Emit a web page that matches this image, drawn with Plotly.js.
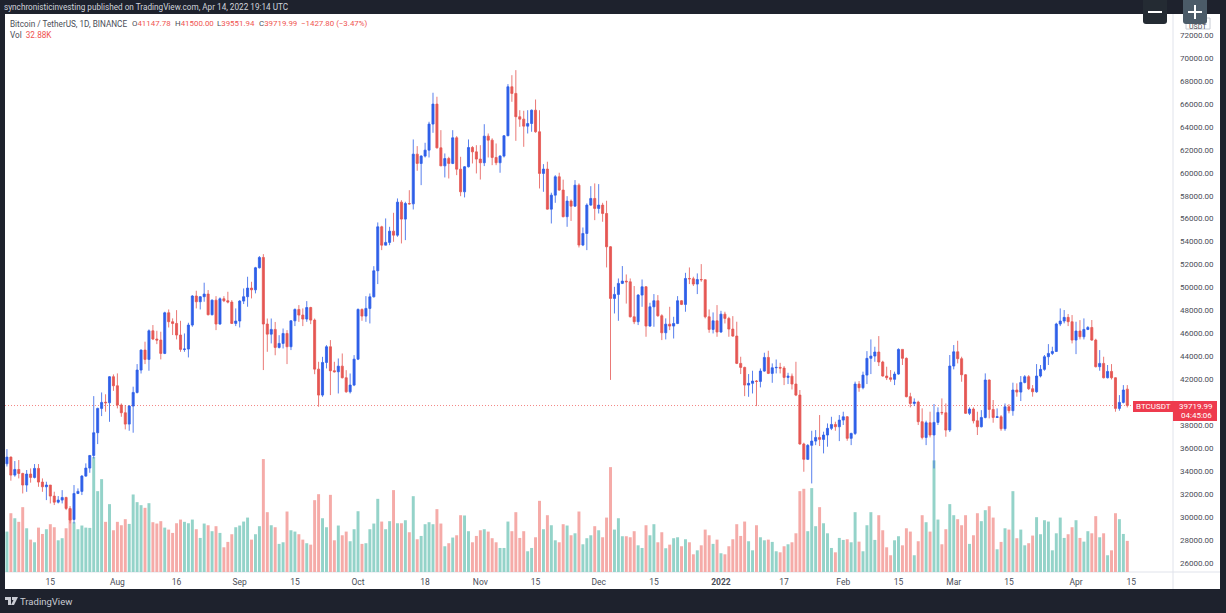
<!DOCTYPE html>
<html>
<head>
<meta charset="utf-8">
<script src="https://cdn.plot.ly/plotly-3.0.1.min.js"></script>
<style>html,body{margin:0;padding:0;background:#1e222d;overflow:hidden}</style>
</head>
<body>
<div id="chart" style="width:1226px;height:613px"></div>
<script>
const firstDate = '2021-07-04';
const opens = [34645,35225,33660,34150,33800,32790,33750,33456,34240,33050,32640,32790,31830,31300,31480,31710,30755,29790,32060,32240,33570,34270,35370,37350,39470,40010,39960,42230,41440,39760,39090,38100,39670,40860,42810,44550,43740,46230,45510,45420,44260,47800,47020,46870,45860,44610,44640,46730,49260,48760,49200,49430,47630,48900,46820,49020,48850,48730,46870,47080,48820,49200,49950,49800,51720,52620,46820,45940,46350,44780,45130,46000,44840,47100,48090,47600,47250,48260,47160,42890,40630,43470,44840,42750,42660,43150,42140,40915,41500,43760,48090,47510,48180,49190,51460,55290,53690,53930,54910,54560,57440,55960,57320,57290,61620,60810,61450,61970,64240,65980,62170,60600,61240,60810,63045,60310,58340,60520,62200,61820,61190,60870,63190,62840,61330,60870,61450,63220,67490,66910,64880,64670,64060,64290,65450,63570,59940,60320,56830,58050,59650,58490,56170,57530,57090,58920,53700,54710,57180,57760,56890,57180,56450,53550,49050,49400,50360,50560,50500,47450,47020,49340,50065,46640,48320,48850,47540,46060,46810,46640,46870,48850,48530,50790,50760,50300,50700,50680,47450,46350,47100,46120,47680,47310,46380,45770,43390,43040,41500,41650,41850,41820,42720,43910,42520,43010,43040,42980,42170,42280,41590,40630,36370,35030,36250,36620,36940,36770,37150,37730,38070,37870,38450,38740,36860,37290,41590,41270,42370,43830,44030,44380,43510,42290,42140,42000,42460,44610,43830,40490,39900,40020,38310,36940,38220,37150,38250,39120,39090,37580,43160,44400,43800,42400,39040,39410,38390,37870,38680,41940,39380,38680,38740,37700,39610,39270,41070,40890,41730,42230,41180,40920,42290,42870,43970,44260,44430,46820,47080,47400,47020,45420,46210,45710,46350,46520,45420,43100,43390,42140,42690,42140,39470,39990,41147.78];
const highs = [35920,35280,34880,34970,33860,34100,34240,34620,34620,33370,33080,32790,32210,31830,32350,31770,30960,32790,32500,33660,34680,35400,40540,39530,40860,40700,42290,42430,42520,39900,39760,39760,41360,43330,44610,45280,46350,46730,46230,46150,47890,48090,47310,48030,47100,46000,46930,49340,49720,49250,50420,49780,48960,49250,49140,49250,49630,48900,48180,48900,49920,50940,50500,51800,52740,52910,47300,47300,47000,45850,46430,46290,47160,48180,48470,48180,48815,48320,47300,43530,43960,44980,45420,43530,43820,44255,42800,42510,44110,48180,48180,49250,49480,51860,55670,55380,56020,55290,56510,57760,57610,57470,58480,62900,62320,61530,62610,64440,66970,66620,63710,61680,61390,63710,63190,61390,60580,62900,62320,62400,62400,64230,63420,63000,62550,61530,63280,67720,68500,68940,65450,65400,65450,65510,66380,65450,60750,60960,58260,59790,60000,59400,57960,57670,59360,59070,55230,57330,58830,59070,59010,57380,57560,53610,50060,50790,51870,51140,50790,50130,49430,50700,50120,48670,49430,49340,47670,47310,48320,47450,49250,48900,51280,51750,50940,51230,52040,50700,48090,47830,48470,47970,47890,47450,47510,47020,43970,43100,42460,42750,41940,42950,44320,44490,43390,43730,43440,43150,42570,42510,43530,41070,36480,36360,37520,37580,38890,37440,38160,38740,38310,38890,39180,38800,37350,41800,41850,42670,44460,45480,44840,45770,43620,43100,42810,42670,44700,44610,43910,40830,40340,40140,39470,38400,39180,39850,39560,40340,39900,44120,44990,45360,43970,42460,39560,39560,39180,39320,42520,42000,40200,39470,38890,39900,39840,41710,41650,42290,42370,42370,41500,43330,43250,44120,45070,44840,46930,48180,48040,47690,47600,47020,47160,47310,46640,47170,45540,44550,43970,43250,43330,42170,40630,41500,41500];
const lows = [34405,33170,33520,33370,32060,32200,33000,33370,32640,32200,31480,31190,31050,31190,31190,30610,29450,29450,32000,31920,33510,33860,35110,36360,38800,39180,38300,41000,39470,38740,37640,37520,37350,40770,42510,43330,42750,45420,45070,43740,44200,46520,45860,45480,44400,44400,43910,46580,48180,48090,48760,47570,47570,46290,46750,48730,48620,46820,46640,46520,48560,48325,49050,49490,51660,42810,44400,45130,44100,44690,44690,43330,44550,46640,47010,46640,47010,46810,42450,39610,40480,42950,40630,42600,40770,42080,40830,40770,41410,43680,47100,47010,46870,49130,50300,53260,53690,53690,53985,54420,53840,54130,57230,56800,60170,58920,61330,61330,63480,62110,60580,59590,59500,60750,59790,57960,57850,60460,60810,59940,59410,60580,61330,60660,60660,60000,61330,63190,66180,62780,64000,62260,63420,63570,63480,58630,58340,56800,55580,57380,58430,56110,55290,55800,57030,53490,53610,53260,57120,55870,56450,55730,51750,41950,47740,47100,50300,48600,47390,46810,46730,48320,45710,46580,46580,47450,45420,45480,46290,45560,46810,48470,47890,50300,50130,49430,50500,47310,46060,46000,45710,46060,46870,45710,45710,43330,42460,40540,40480,40770,39670,41300,42660,42460,41700,42520,42520,41500,41590,41120,40540,36300,33950,34970,32930,36270,36190,35550,36130,37580,37520,36620,38020,36650,36270,37150,40920,41130,41590,42460,43530,43160,42230,41940,41790,41500,42400,43250,40430,39560,39670,38020,36770,36270,36940,34240,38020,38890,37000,37410,42870,43390,41790,38980,38890,38160,37150,37810,38600,38600,38220,38650,37520,37520,39040,38830,40490,40110,41650,41070,40490,40830,42170,42750,43250,44120,44400,46640,46880,46640,45130,44200,45480,45480,46290,45360,43040,42750,42080,42080,41990,39180,39270,39900,39551.94];
const closes = [35225,33660,34150,33800,32790,33750,33456,34240,33050,32640,32790,31830,31300,31480,31710,30755,29740,32060,32240,33570,34270,35370,37350,39470,39990,39960,42230,41440,39760,39090,38100,39670,40860,42810,44550,43740,46230,45510,45420,44260,47800,47020,46870,45860,44610,44640,46730,49260,48760,49200,49430,47630,48900,46820,49020,48850,48730,46870,47080,48820,49200,49950,49800,51720,52620,46820,45940,46350,44780,45130,46000,44840,47100,48090,47600,47250,48260,47160,42890,40630,43470,44840,42750,42660,43150,42140,40915,41500,43760,48090,47510,48180,49190,51460,55290,53690,53930,54910,54560,57440,55960,57320,57290,61620,60810,61450,61970,64240,65980,62170,60600,61240,60810,63045,60310,58340,60520,62200,61820,61190,60870,63190,62840,61330,60870,61450,63220,67490,66910,64880,64670,64060,64290,65450,63570,59940,60320,56830,58050,59650,58490,56170,57530,57090,58920,53700,54710,57180,57760,56890,57180,56450,53550,49050,49400,50360,50560,50500,47450,47020,49340,50065,46640,48320,48850,47540,46060,46810,46640,46870,48850,48530,50790,50760,50300,50700,50680,47450,46350,47100,46120,47680,47310,46380,45770,43390,43040,41500,41650,41850,41820,42720,43910,42520,43010,43040,42980,42170,42280,41590,40630,36370,35030,36250,36620,36940,36770,37150,37730,38070,37870,38450,38740,36860,37290,41590,41270,42370,43830,44030,44380,43510,42290,42140,42000,42460,44610,43830,40490,39900,40020,38310,36940,38220,37150,38250,39120,39090,37580,43160,44400,43800,42400,39040,39410,38390,37870,38680,41940,39380,38680,38740,37700,39610,39270,41070,40890,41730,42230,41180,40920,42290,42870,43970,44260,44430,46820,47080,47400,47020,45420,46210,45710,46350,46520,45420,43100,43390,42140,42690,42140,39470,39990,41070,39719.99];
const volumesK = [42.7,62.1,56.8,53.0,68.5,46.2,34.2,31.4,46.9,40.2,45.2,50.5,47.3,33.5,35.7,46.2,66.4,52.6,45.2,49.1,46.9,46.6,121.4,85.4,98.1,53.0,71.7,44.1,53.0,49.4,55.8,50.8,81.9,73.8,70.6,67.8,72.7,52.6,51.2,53.7,46.9,44.8,41.3,51.5,55.4,53.0,51.5,55.4,45.2,36.0,51.2,49.4,43.1,48.4,41.3,26.1,31.8,39.9,47.3,49.1,53.3,57.5,34.2,39.9,48.4,119.3,63.2,49.4,47.3,29.7,31.4,63.9,44.1,42.7,39.9,34.2,30.4,28.9,75.9,82.2,56.8,47.3,81.5,33.5,49.1,38.8,42.7,32.5,45.2,64.2,29.7,30.4,45.2,51.2,77.3,53.3,45.2,53.7,86.5,51.5,51.5,54.7,42.0,80.1,34.6,38.1,50.5,52.6,50.5,66.4,51.2,27.2,30.4,36.4,38.8,60.0,59.7,43.1,31.4,38.1,44.1,45.2,42.7,35.7,31.4,25.4,25.4,53.3,43.1,63.2,36.0,43.1,21.9,25.4,36.7,75.2,45.2,60.0,49.4,33.5,31.4,50.5,49.1,38.8,40.9,63.9,29.3,35.7,38.8,48.4,44.1,36.7,57.5,110.8,44.8,56.8,37.8,37.8,36.7,43.1,28.2,25.4,49.4,38.8,50.5,31.4,42.0,25.1,28.9,35.7,36.7,27.2,34.6,31.4,18.7,22.9,28.2,44.8,38.8,29.7,34.2,19.8,18.7,27.2,34.6,50.5,38.1,53.3,32.5,22.9,49.4,36.7,33.5,34.2,31.8,21.9,20.8,27.2,29.3,31.4,40.9,85.4,87.9,43.1,88.6,48.4,68.5,51.5,40.9,25.4,20.8,36.0,33.9,34.6,31.4,63.2,32.1,21.9,49.4,63.2,33.9,60.0,44.1,26.1,17.7,33.5,37.8,28.2,46.2,42.7,17.7,32.5,60.0,52.6,42.7,117.9,55.4,29.3,45.2,71.7,60.0,55.8,49.4,60.0,29.7,38.8,62.1,53.7,65.3,69.5,57.5,24.0,31.8,46.2,44.8,85.4,35.7,44.8,28.2,30.4,38.5,57.9,39.9,54.7,53.3,22.9,40.9,57.5,36.0,39.9,47.3,54.7,36.0,32.1,43.1,40.9,59.0,36.7,40.9,17.7,22.9,62.1,55.8,40.2,32.88];
const priceTicks = [26000,28000,30000,32000,34000,36000,38000,42000,44000,46000,48000,50000,52000,54000,56000,58000,60000,62000,64000,66000,68000,70000,72000];
const timeTickDates = ['2021-07-15','2021-08-01','2021-08-16','2021-09-01','2021-09-15','2021-10-01','2021-10-18','2021-11-01','2021-11-15','2021-12-01','2021-12-15','2022-01-01','2022-01-17','2022-02-01','2022-02-15','2022-03-01','2022-03-15','2022-04-01','2022-04-15'];
const timeTickLabels = ['15','Aug','16','Sep','15','Oct','18','Nov','15','Dec','15','<b>2022</b>','17','Feb','15','Mar','15','Apr','15'];
const publishedLine = 'synchronisticinvesting published on TradingView.com, Apr 14, 2022 19:14 UTC';
const symbolName = 'Bitcoin / TetherUS, 1D, BINANCE';
const lastChange = '−1427.80 (−3.47%)';
const lastVolume = '32.88K';
const countdown = '04:45:06';

const W = 1226, H = 613, L = 5, R = 1173, T = 14, B = 572;
const px = x => (x - L) / (R - L);
const py = y => 1 - (y - T) / (B - T);
const UP = '#2f5fe8', DOWN = '#e55753', UPV = '#94d3c9', DOWNV = '#f5aba8', TAG = '#ee3b4e', DARK = '#1e222d', GRID = '#e0e3eb', TXT = '#4a4d57';
const FONT = 'Roboto, "Liberation Sans", sans-serif';

const dates = opens.map((_, i) => {
  const d = new Date(firstDate + 'T00:00:00Z');
  d.setUTCDate(d.getUTCDate() + i);
  return d.toISOString().slice(0, 10);
});

const traces = [
  {type: 'bar', x: dates, y: volumesK, xaxis: 'x', yaxis: 'y', hoverinfo: 'skip',
   marker: {color: closes.map((c, i) => c >= opens[i] ? UPV : DOWNV), line: {width: 0}}},
  {type: 'candlestick', x: dates, open: opens, high: highs, low: lows, close: closes,
   xaxis: 'x', yaxis: 'y2', hoverinfo: 'skip', whiskerwidth: 0,
   increasing: {line: {color: UP, width: 0.8}, fillcolor: UP},
   decreasing: {line: {color: DOWN, width: 0.8}, fillcolor: DOWN}}
];

function rect(x0, y0, x1, y1, color, extra) {
  return Object.assign({type: 'rect', xref: 'paper', yref: 'paper', x0: px(x0), x1: px(x1), y0: py(y0), y1: py(y1),
    fillcolor: color, line: {width: 0}, layer: 'below'}, extra || {});
}
function seg(x0, y0, x1, y1, color, w, layer) {
  return {type: 'line', xref: 'paper', yref: 'paper', x0: px(x0), x1: px(x1), y0: py(y0), y1: py(y1),
    line: {color: color, width: w}, layer: layer || 'above'};
}
function button(x0, x1, color) {
  const r = 3, yb = 24;
  const path = `M ${px(x0)} ${py(-1)} L ${px(x1)} ${py(-1)} L ${px(x1)} ${py(yb - r)} Q ${px(x1)} ${py(yb)} ${px(x1 - r)} ${py(yb)} L ${px(x0 + r)} ${py(yb)} Q ${px(x0)} ${py(yb)} ${px(x0)} ${py(yb - r)} Z`;
  return {type: 'path', xref: 'paper', yref: 'paper', path, fillcolor: color, line: {width: 0}, layer: 'above'};
}
const shapes = [
  rect(R, T, 1220, 589, '#ffffff'),
  rect(L, B, R, 589, '#ffffff'),
  seg(R, T, R, 589, GRID, 1, 'below'),
  seg(L, B, 1220, B, GRID, 1, 'below'),
  {type: 'line', xref: 'paper', yref: 'y2', x0: 0, x1: px(1133), y0: closes[closes.length - 1], y1: closes[closes.length - 1],
   line: {color: 'rgba(239,83,80,0.7)', width: 1, dash: '1px,2px'}, layer: 'below'},
  rect(1133, 401, R, 412, TAG, {layer: 'above'}),
  rect(R, 401, 1217, 421, TAG, {layer: 'above'}),
  {type: 'rect', xref: 'paper', yref: 'paper', x0: px(1186), x1: px(1210), y0: py(18), y1: py(29), fillcolor: '#fff', line: {color: '#c8ccd4', width: 1}, layer: 'above'},
  button(1143, 1167, '#242b33'),
  button(1183, 1207, '#4b5b68'),
  seg(1148, 12, 1162, 12, '#ffffff', 2),
  seg(1188, 12, 1202, 12, '#ffffff', 2),
  seg(1195, 5, 1195, 19, '#ffffff', 2),
  {type: 'path', xref: 'paper', yref: 'paper', fillcolor: '#c9ccd3', line: {width: 0}, layer: 'above',
   path: `M ${px(5)} ${py(597)} H ${px(11)} V ${py(605)} H ${px(8)} V ${py(600)} H ${px(5)} Z M ${px(12)} ${py(597)} H ${px(18)} L ${px(14)} ${py(605)} H ${px(11)} L ${px(13.5)} ${py(600)} H ${px(12)} Z`}
];

function note(text, x, y, size, color, anchor, extra) {
  return Object.assign({xref: 'paper', yref: 'paper', x: px(x), y: py(y), text, showarrow: false,
    xanchor: anchor || 'left', yanchor: 'middle', align: anchor || 'left',
    font: {family: FONT, size, color}, borderpad: 0, borderwidth: 0}, extra || {});
}
const red = '#ef5350';
const v = s => `<span style="color:${red}">${s}</span>`;
const annotations = [
  note(publishedLine, 4, 6.5, 8.2, '#d1d4dc'),
  note(symbolName, 10, 24, 8.2, TXT),
  note(`O${v(opens[284].toFixed(2))}`, 132, 24, 7.9, TXT),
  note(`H${v(highs[284].toFixed(2))}`, 175, 24, 7.9, TXT),
  note(`L${v(lows[284].toFixed(2))}`, 217, 24, 7.9, TXT),
  note(`C${v(closes[284].toFixed(2))}`, 259, 24, 7.9, TXT),
  note(lastChange, 301, 24, 7.9, red),
  note(`Vol  ${v(lastVolume)}`, 10, 35, 8.2, TXT),
  note('BTCUSDT', 1153, 406.5, 8, '#ffffff', 'center'),
  note(closes[284].toFixed(2), 1196, 406.5, 8, '#ffffff', 'center'),
  note(countdown, 1196, 415.5, 8, '#ffffff', 'center'),
  note('USDT', 1198, 27, 7, TXT, 'center'),
  note('TradingView', 20, 601, 9.5, '#c9ccd3')
];

const layout = {
  width: W, height: H, autosize: false,
  margin: {l: L, r: W - R, t: T, b: H - B, pad: 0},
  paper_bgcolor: DARK, plot_bgcolor: '#ffffff',
  showlegend: false, bargap: 0.25, boxgap: 0.25, dragmode: false,
  font: {family: FONT, size: 8, color: TXT},
  xaxis: {type: 'date', range: ['2021-07-03 12:15', '2022-04-25 14:00'], rangeslider: {visible: false},
          tickmode: 'array', tickvals: timeTickDates, ticktext: timeTickLabels, ticks: '', showgrid: false,
          zeroline: false, showline: false, ticklabelstandoff: 3, tickfont: {family: FONT, size: 8.5, color: TXT}},
  yaxis: {range: [0, 589.5], visible: false, showgrid: false, zeroline: false, fixedrange: true},
  yaxis2: {overlaying: 'y', side: 'right', range: [25216, 73830], tickmode: 'array', tickvals: priceTicks,
           tickformat: '.2f', ticks: '', showgrid: false, zeroline: false, showline: false, fixedrange: true,
           ticklabelstandoff: 6, tickfont: {family: FONT, size: 8, color: TXT}},
  shapes, annotations
};
Plotly.newPlot('chart', traces, layout, {displayModeBar: false, staticPlot: true});
</script>
</body>
</html>
